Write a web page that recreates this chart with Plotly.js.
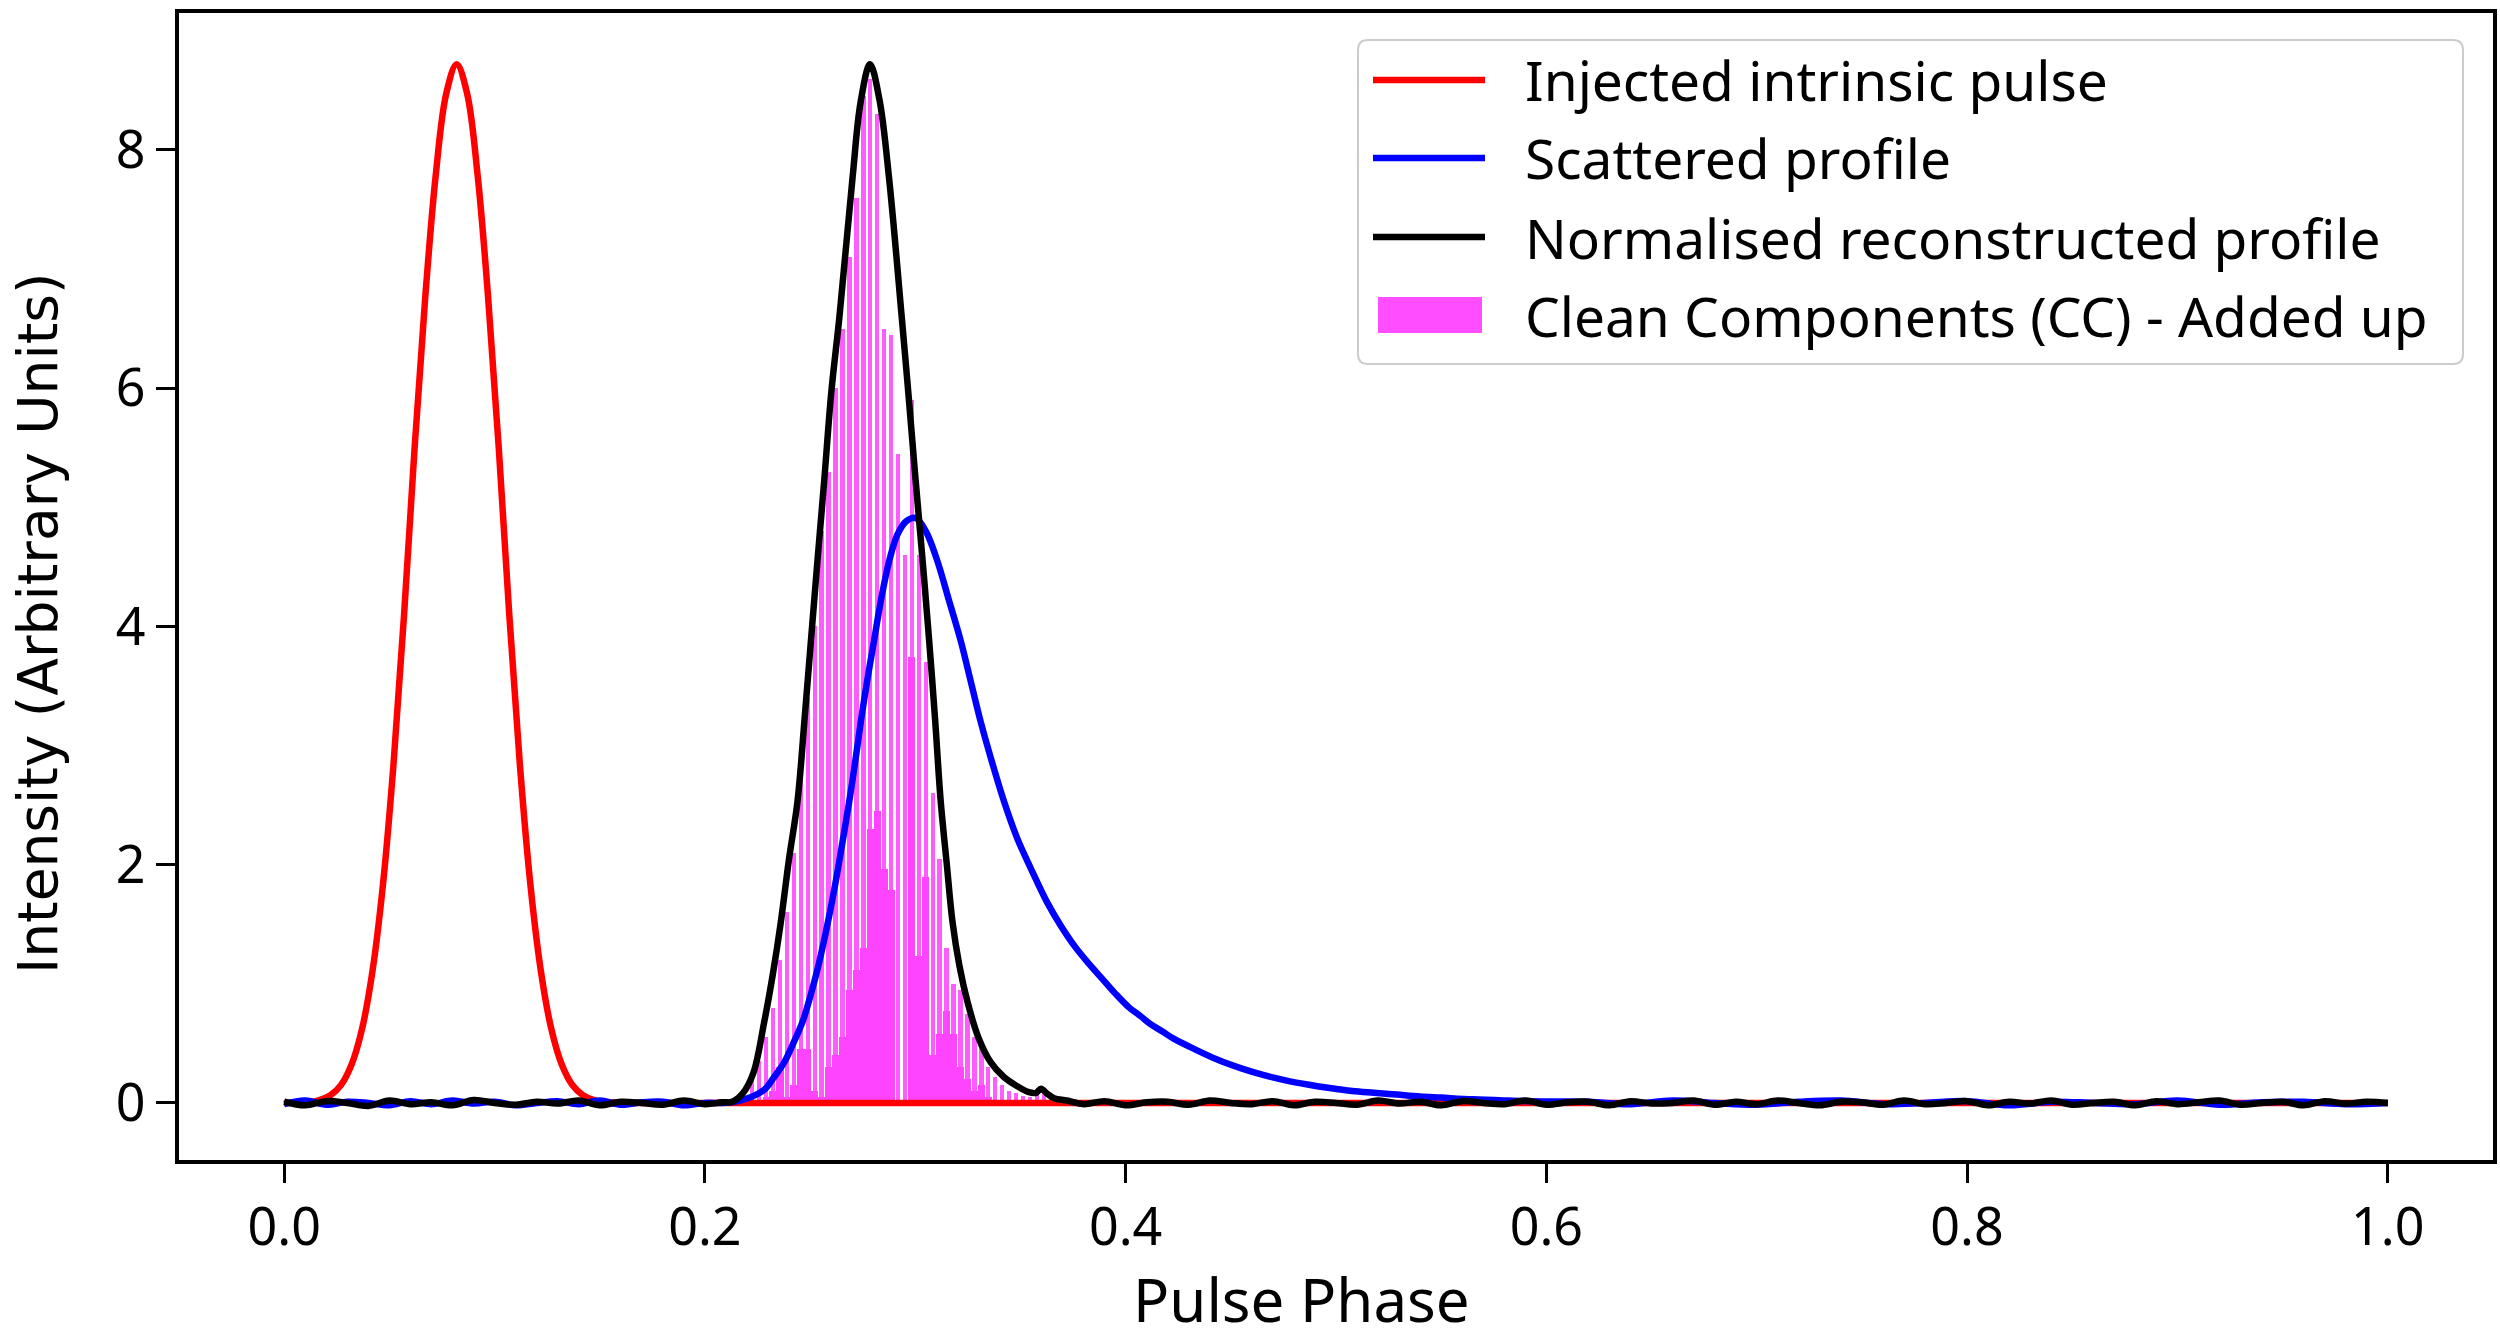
<!DOCTYPE html>
<html>
<head>
<meta charset="utf-8">
<script src="https://cdn.plot.ly/plotly-3.0.1.min.js"></script>
<style>
  html, body { margin: 0; padding: 0; background: #fff; }
  #plot { width: 2500px; height: 1341px; }
</style>
</head>
<body>
<div id="plot"></div>
<script>
// ---- data ----

// injected intrinsic pulse (red)
const redPhase = [0.000, 0.010, 0.016, 0.022, 0.027, 0.032, 0.037, 0.042, 0.047, 0.052,
  0.057, 0.062, 0.067, 0.072, 0.077, 0.082, 0.087, 0.092, 0.097, 0.102,
  0.107, 0.112, 0.117, 0.122, 0.127, 0.132, 0.137, 0.142, 0.148, 0.154,
  0.165, 0.180, 0.250, 0.400, 0.600, 0.800, 1.000];
const redValue = [0.000, 0.005, 0.020, 0.065, 0.150, 0.320, 0.620, 1.110, 1.840, 2.850,
  4.100, 5.500, 6.750, 7.780, 8.470, 8.720, 8.470, 7.780, 6.750, 5.500,
  4.100, 2.850, 1.840, 1.110, 0.620, 0.320, 0.150, 0.065, 0.020, 0.005,
  0.000, 0.000, 0.000, 0.000, 0.000, 0.000, 0.000];

// scattered profile (blue)
const bluePhase = [
  0.00, 0.01, 0.02, 0.03, 0.04, 0.05, 0.06, 0.07, 0.08, 0.09, 0.10,
  0.11, 0.12, 0.13, 0.14, 0.15, 0.16, 0.17, 0.18, 0.19, 0.20, 0.208,
  0.214, 0.222, 0.2282, 0.233, 0.2377, 0.242, 0.2464, 0.2505, 0.2543, 0.2585,
  0.2622, 0.2655, 0.2686, 0.2715, 0.2741, 0.2772, 0.2804, 0.284, 0.2876, 0.2915,
  0.2955, 0.3002, 0.305, 0.3105, 0.316, 0.3216, 0.3265, 0.3311, 0.3365, 0.3422,
  0.3485, 0.3549, 0.3625, 0.3691, 0.376, 0.3825, 0.389, 0.395, 0.4017, 0.407,
  0.412, 0.4175, 0.4228, 0.433, 0.4441, 0.455, 0.4653, 0.476, 0.4865, 0.497,
  0.5077, 0.518, 0.529, 0.540, 0.550, 0.565, 0.582, 0.600,
  0.62, 0.64, 0.66, 0.68, 0.70, 0.72, 0.74, 0.76, 0.78, 0.80,
  0.82, 0.84, 0.86, 0.88, 0.90, 0.92, 0.94, 0.96, 0.98, 1.00];
const blueValue = [
  -0.01, 0.02, -0.015, 0.01, 0.0, -0.02, 0.015, -0.01, 0.02, -0.005, 0.01,
  -0.02, 0.0, 0.015, -0.01, 0.02, -0.015, 0.005, 0.01, -0.02, 0.0, 0.0,
  0.01, 0.05, 0.11, 0.22, 0.34, 0.50, 0.68, 0.92, 1.18, 1.52,
  1.86, 2.20, 2.53, 2.87, 3.20, 3.55, 3.88, 4.25, 4.55, 4.77,
  4.88, 4.91, 4.80, 4.55, 4.22, 3.88, 3.53, 3.20, 2.86, 2.53,
  2.22, 1.97, 1.69, 1.49, 1.31, 1.17, 1.04, 0.92, 0.80, 0.73,
  0.66, 0.60, 0.54, 0.45, 0.36, 0.29, 0.235, 0.19, 0.155, 0.125,
  0.10, 0.085, 0.07, 0.055, 0.045, 0.03, 0.02, 0.012,
  0.01, -0.01, 0.02, 0.0, -0.015, 0.01, 0.02, -0.01, 0.0, 0.015,
  -0.02, 0.01, 0.0, -0.01, 0.02, -0.015, 0.005, 0.01, -0.01, 0.0];

// normalised reconstructed profile (black)
const blackPhase = [
  0.00, 0.01, 0.02, 0.03, 0.04, 0.05, 0.06, 0.07, 0.08, 0.09, 0.10,
  0.11, 0.12, 0.13, 0.14, 0.15, 0.16, 0.17, 0.18, 0.19, 0.20, 0.208,
  0.213, 0.218, 0.223, 0.2282, 0.232, 0.2361, 0.240, 0.244, 0.2475, 0.2504,
  0.2535, 0.2567, 0.260, 0.264, 0.2702, 0.274, 0.2785, 0.283, 0.2875, 0.2935,
  0.297, 0.3002, 0.3035, 0.3066, 0.3095, 0.3121, 0.315, 0.3177, 0.321, 0.3248,
  0.330, 0.3359, 0.342, 0.3485, 0.354, 0.3575, 0.3598, 0.3625, 0.366, 0.372,
  0.38, 0.39, 0.40, 0.41, 0.42, 0.43, 0.44, 0.45, 0.46, 0.47,
  0.48, 0.49, 0.50, 0.51, 0.52, 0.53, 0.54, 0.55, 0.56, 0.57,
  0.58, 0.59, 0.60, 0.61, 0.62, 0.63, 0.64, 0.65, 0.66, 0.67,
  0.68, 0.69, 0.70, 0.71, 0.72, 0.73, 0.74, 0.75, 0.76, 0.77,
  0.78, 0.79, 0.80, 0.81, 0.82, 0.83, 0.84, 0.85, 0.86, 0.87,
  0.88, 0.89, 0.90, 0.91, 0.92, 0.93, 0.94, 0.95, 0.96, 0.97,
  0.98, 0.99, 1.00];
const blackValue = [
  0.01, -0.02, 0.015, 0.0, -0.025, 0.02, -0.01, 0.005, -0.02, 0.025, 0.0,
  -0.015, 0.01, -0.005, 0.02, -0.02, 0.01, 0.0, -0.015, 0.02, -0.01, 0.005,
  0.01, 0.08, 0.25, 0.68, 1.05, 1.52, 2.05, 2.53, 3.25, 3.88,
  4.55, 5.22, 5.95, 6.61, 7.77, 8.40, 8.72, 8.42, 7.77, 6.61,
  5.90, 5.22, 4.55, 3.88, 3.20, 2.53, 2.00, 1.52, 1.15, 0.85,
  0.55, 0.34, 0.22, 0.14, 0.09, 0.085, 0.12, 0.08, 0.04, 0.02,
  -0.01, 0.015, -0.02, 0.005, 0.01, -0.015, 0.02, 0.0, -0.01, 0.015,
  -0.02, 0.01, 0.0, -0.015, 0.02, -0.005, 0.01, -0.02, 0.015, 0.0,
  -0.01, 0.02, -0.015, 0.005, 0.01, -0.02, 0.015, -0.005, 0.0, 0.02,
  -0.015, 0.01, -0.01, 0.02, 0.0, -0.02, 0.01, 0.005, -0.015, 0.02,
  -0.01, 0.0, 0.015, -0.02, 0.01, -0.005, 0.02, -0.015, 0.0, 0.01,
  -0.02, 0.015, -0.01, 0.005, 0.02, -0.015, 0.0, 0.01, -0.02, 0.015,
  -0.005, 0.01, 0.0];

// clean components, added up (magenta bars)
const ccPhase = [0.2225, 0.2258, 0.2291, 0.2324, 0.2357, 0.2390, 0.2423, 0.2456, 0.2489, 0.2522,
  0.2555, 0.2588, 0.2621, 0.2654, 0.2687, 0.2720, 0.2753, 0.2786, 0.2819, 0.2852,
  0.2885, 0.2918, 0.2951, 0.2984, 0.3017, 0.3050, 0.3083, 0.3116, 0.3149, 0.3182,
  0.3215, 0.3248, 0.3281, 0.3314, 0.3347, 0.3380, 0.3413, 0.3446, 0.3479, 0.3512,
  0.3545, 0.3578, 0.3611, 0.3644];
// tall, thin components
const ccTall = [0.20, 0.35, 0.55, 0.80, 1.20, 1.60, 2.10, 2.80, 3.40, 4.00,
  4.80, 5.30, 6.00, 6.50, 7.10, 7.60, 8.45, 8.60, 8.30, 6.50,
  6.45, 5.45, 4.60, 5.90, 4.60, 3.70, 2.60, 2.05, 1.30, 1.00,
  0.95, 0.75, 0.55, 0.50, 0.30, 0.22, 0.15, 0.10, 0.08, 0.06,
  0.05, 0.12, 0.08, 0.03];
// dense lower part, where the components merge into a solid block
const ccBase = [0.00, 0.00, 0.05, 0.10, 0.30, 0.05, 0.15, 0.45, 0.45, 0.10,
  0.05, 0.30, 0.40, 0.55, 0.95, 1.12, 1.30, 2.30, 2.45, 1.96,
  1.79, 0.00, 0.00, 3.74, 1.23, 1.90, 0.40, 0.58, 0.77, 0.58,
  0.30, 0.20, 0.10, 0.15, 0.05, 0.00, 0.00, 0.00, 0.00, 0.00,
  0.00, 0.00, 0.00, 0.00];

// ticks
const xTicks = [0.0, 0.2, 0.4, 0.6, 0.8, 1.0];
const xTickText = ["0.0", "0.2", "0.4", "0.6", "0.8", "1.0"];
const yTicks = [0, 2, 4, 6, 8];
const yTickText = ["0", "2", "4", "6", "8"];

// legend entries
const legendNames = ["Injected intrinsic pulse", "Scattered profile",
  "Normalised reconstructed profile", "Clean Components (CC) - Added up"];
const legendColors = ["#ff0000", "#0000ff", "#000000", "#ff4dff"];

// ---- layout geometry (pixels) ----
const plotLeft = 179, plotRight = 2493, plotTop = 13, plotBottom = 1160;

// pixel -> paper coordinates
function px(x) { return (x - plotLeft) / (plotRight - plotLeft); }
function py(y) { return (plotBottom - y) / (plotBottom - plotTop); }

function roundRect(x0, y0, x1, y1, r) {
  const P = (x, y) => px(x).toFixed(5) + "," + py(y).toFixed(5);
  return "M" + P(x0 + r, y0) + " L" + P(x1 - r, y0) + " Q" + P(x1, y0) + " " + P(x1, y0 + r) +
    " L" + P(x1, y1 - r) + " Q" + P(x1, y1) + " " + P(x1 - r, y1) +
    " L" + P(x0 + r, y1) + " Q" + P(x0, y1) + " " + P(x0, y1 - r) +
    " L" + P(x0, y0 + r) + " Q" + P(x0, y0) + " " + P(x0 + r, y0) + " Z";
}

const lineStyle = (color) => ({ color: color, width: 6.5, shape: "spline", smoothing: 1 });

const traces = [
  { x: ccPhase, y: ccTall, type: "bar", width: 0.0021,
    marker: { color: "#ff5cff", line: { width: 0 } }, name: legendNames[3] },
  { x: ccPhase, y: ccBase, type: "bar", width: 0.0034,
    marker: { color: "#ff44ff", line: { width: 0 } }, name: legendNames[3] },
  { x: redPhase, y: redValue, mode: "lines", type: "scatter", line: lineStyle("#ff0000"), name: legendNames[0] },
  { x: bluePhase, y: blueValue, mode: "lines", type: "scatter", line: lineStyle("#0000ff"), name: legendNames[1] },
  { x: blackPhase, y: blackValue, mode: "lines", type: "scatter", line: lineStyle("#000000"), name: legendNames[2] },
];

// hand-made legend box (matplotlib style)
const legendRows = [80, 158, 237, 315];
const shapes = [
  { type: "path", xref: "paper", yref: "paper", layer: "above",
    path: roundRect(1358, 40, 2463, 364, 10),
    fillcolor: "rgba(255,255,255,0.8)", line: { color: "#cccccc", width: 2 } },
];
const annotations = [];
legendNames.forEach((name, i) => {
  const yc = legendRows[i];
  if (i < 3) {
    shapes.push({ type: "line", xref: "paper", yref: "paper", layer: "above",
      x0: px(1373), x1: px(1485), y0: py(yc), y1: py(yc),
      line: { color: legendColors[i], width: 6.5 } });
  } else {
    shapes.push({ type: "rect", xref: "paper", yref: "paper", layer: "above",
      x0: px(1378), x1: px(1482), y0: py(yc - 18), y1: py(yc + 18),
      fillcolor: legendColors[i], line: { width: 0 } });
  }
  annotations.push({ xref: "paper", yref: "paper", x: px(1523), y: py(yc),
    xanchor: "left", yanchor: "middle", showarrow: false, text: name,
    font: { family: "Noto Sans", size: 55, color: "#000" } });
});

// axis titles (placed like the original, slightly off centre)
annotations.push({ xref: "paper", yref: "paper", x: px(1301), y: py(1299),
  xanchor: "center", yanchor: "middle", showarrow: false, text: "Pulse Phase",
  font: { family: "Noto Sans", size: 60, color: "#000" } });
annotations.push({ xref: "paper", yref: "paper", x: px(38), y: py(624),
  xanchor: "center", yanchor: "middle", showarrow: false, textangle: -90,
  text: "Intensity (Arbitrary Units)",
  font: { family: "DejaVu Sans", size: 55, color: "#000" } });

const axisCommon = {
  showgrid: false, zeroline: false, showline: true, mirror: true,
  linecolor: "#000", linewidth: 4, ticks: "outside", ticklen: 19, tickwidth: 3,
  tickcolor: "#000", tickfont: { family: "Noto Sans", size: 52, color: "#000" },
  automargin: false, fixedrange: true,
};

const layout = {
  width: 2500, height: 1341, autosize: false,
  margin: { l: plotLeft, r: 2500 - plotRight, t: plotTop, b: 1341 - plotBottom, pad: 0 },
  paper_bgcolor: "#fff", plot_bgcolor: "#fff",
  font: { family: "Noto Sans", color: "#000" },
  showlegend: false, barmode: "overlay", bargap: 0,
  xaxis: Object.assign({}, axisCommon, {
    range: [-0.05, 1.05], tickmode: "array", tickvals: xTicks, ticktext: xTickText,
  }),
  yaxis: Object.assign({}, axisCommon, {
    range: [-0.479, 9.15], tickmode: "array", tickvals: yTicks, ticktext: yTickText,
  }),
  shapes: shapes,
  annotations: annotations,
};

Plotly.newPlot("plot", traces, layout, { staticPlot: true, displayModeBar: false });
</script>
</body>
</html>
